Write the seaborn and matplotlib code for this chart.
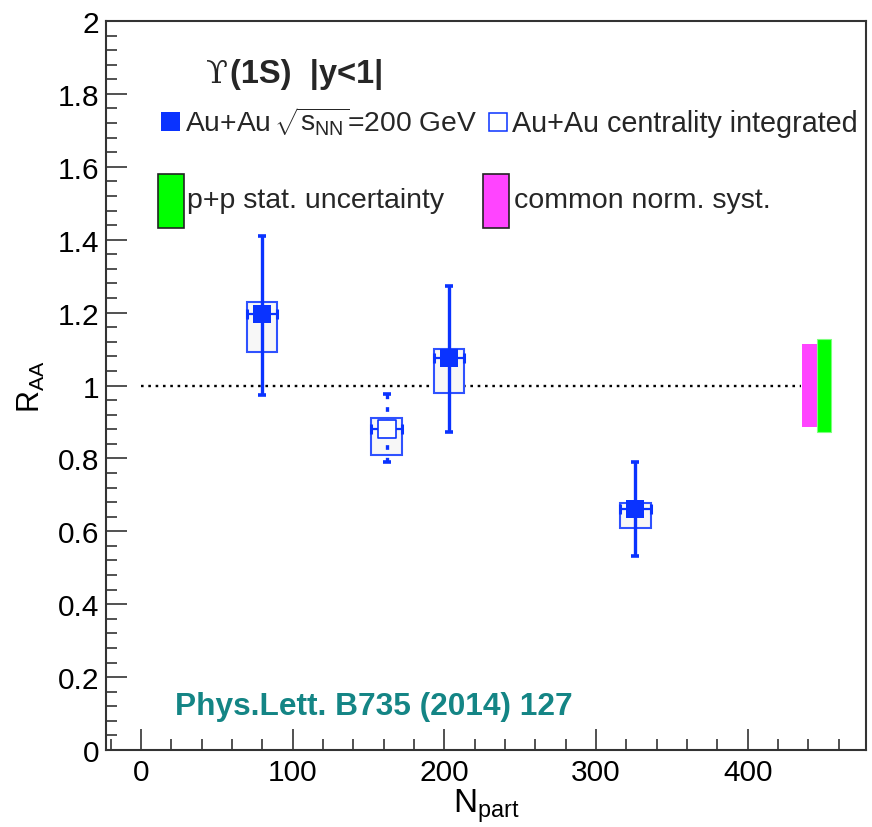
import numpy as np
import pandas as pd
import matplotlib
matplotlib.use("Agg")
import matplotlib.pyplot as plt
from matplotlib.patches import Rectangle
from matplotlib.ticker import AutoMinorLocator, FixedLocator
import seaborn as sns

# ---- data: Upsilon(1S) R_AA vs N_part, Au+Au 200 GeV, |y|<1 ----
npart = [80, 203, 326]
raa = [1.195, 1.075, 0.662]
stat_lo = [0.220, 0.202, 0.131]
stat_hi = [0.215, 0.197, 0.129]
sys_lo = [0.103, 0.096, 0.054]
sys_hi = [0.035, 0.025, 0.017]

# centrality integrated point
npart_int = [162]
raa_int = [0.880]
stat_lo_int = [0.090]
stat_hi_int = [0.097]
sys_lo_int = [0.071]
sys_hi_int = [0.032]

# global uncertainties around unity
pp_stat_unc = 0.128
norm_syst_unc = 0.115

x_tick_values = [0, 100, 200, 300, 400]
x_tick_labels = ["0", "100", "200", "300", "400"]
y_tick_values = [0, 0.2, 0.4, 0.6, 0.8, 1.0, 1.2, 1.4, 1.6, 1.8, 2.0]
y_tick_labels = ["0", "0.2", "0.4", "0.6", "0.8", "1", "1.2", "1.4", "1.6", "1.8", "2"]

# ---- style ----
sns.set_theme(style="white")
plt.rcParams["font.family"] = ["Liberation Sans", "DejaVu Sans"]
plt.rcParams["mathtext.fontset"] = "custom"
plt.rcParams["mathtext.rm"] = "Liberation Sans"
plt.rcParams["mathtext.it"] = "Liberation Sans:italic"
plt.rcParams["mathtext.bf"] = "Liberation Sans:bold"

BLUE = "#0a33ff"
BOX_EDGE = "#2f52ff"
BOX_FILL = "#f7f7f7"
PINK = "#ff44ff"
GREEN = "#00ff00"
TEAL = "#148585"

W, H = 872, 828
fig = plt.figure(figsize=(W / 100, H / 100), dpi=100)
fig.patch.set_facecolor("white")


def fx(px):
    return px / W


def fy(py):
    return 1 - py / H


ax = fig.add_axes([fx(106), fy(751), fx(866) - fx(106), fy(22) - fy(751)])
ax.set_facecolor("white")

half_width = 10  # half width of the systematic boxes in N_part

# systematic boxes
ax.bar(npart, np.add(sys_lo, sys_hi), bottom=np.subtract(raa, sys_lo),
       width=2 * half_width, facecolor=BOX_FILL, edgecolor=BOX_EDGE,
       linewidth=1.5, zorder=2)
ax.bar(npart_int, np.add(sys_lo_int, sys_hi_int),
       bottom=np.subtract(raa_int, sys_lo_int),
       width=2 * half_width, facecolor=BOX_FILL, edgecolor=BOX_EDGE,
       linewidth=1.5, zorder=2)

# reference line at unity
ref_level = 1.0
ref_x_start, ref_x_end = 0, 435
ax.hlines(ref_level, ref_x_start, ref_x_end, colors="black", linewidth=1.7,
          linestyles=(0, (1.1, 2.0)), zorder=1)

# global uncertainty bands at unity
norm_band_left, norm_band_right = 436, 446
pp_band_left, pp_band_right = 446, 455
ax.bar(norm_band_left, 2 * norm_syst_unc, bottom=ref_level - norm_syst_unc,
       width=norm_band_right - norm_band_left, align="edge",
       color=PINK, linewidth=0, zorder=2)
ax.bar(pp_band_left, 2 * pp_stat_unc, bottom=ref_level - pp_stat_unc,
       width=pp_band_right - pp_band_left, align="edge",
       facecolor=GREEN, edgecolor="#7dff7d", linewidth=0.8, zorder=2)

# statistical error bars
ax.errorbar(npart, raa, yerr=[stat_lo, stat_hi], fmt="none", ecolor=BLUE,
            elinewidth=2.4, capsize=2.8, capthick=2.6, zorder=3)
ax.errorbar(npart, raa, xerr=half_width, fmt="none", ecolor=BLUE,
            elinewidth=1.6, capsize=3.5, capthick=2.2, zorder=3)
eb = ax.errorbar(npart_int, raa_int, yerr=[stat_lo_int, stat_hi_int],
                 fmt="none", ecolor=BLUE, elinewidth=2.4, capsize=2.8,
                 capthick=2.6, zorder=3)
eb[2][0].set_linestyle((0, (1.4, 2.4)))
ax.errorbar(npart_int, raa_int, xerr=half_width, fmt="none", ecolor=BLUE,
            elinewidth=1.6, capsize=3.5, capthick=2.2, zorder=3)

# markers
df = pd.DataFrame({"npart": npart, "raa": raa})
df_int = pd.DataFrame({"npart": npart_int, "raa": raa_int})
sns.scatterplot(data=df, x="npart", y="raa", marker="s", s=172, color=BLUE,
                linewidth=0, zorder=4, ax=ax, legend=False)
sns.scatterplot(data=df_int, x="npart", y="raa", marker="s", s=150,
                color="white", edgecolor=BLUE, linewidth=1.2, zorder=4,
                ax=ax, legend=False)

# ---- axes ----
ax.set_xlim(-23, 478)
ax.set_ylim(0, 2)
ax.xaxis.set_major_locator(FixedLocator(x_tick_values))
ax.set_xticklabels(x_tick_labels)
ax.yaxis.set_major_locator(FixedLocator(y_tick_values))
ax.set_yticklabels(y_tick_labels)
ax.xaxis.set_minor_locator(AutoMinorLocator(5))
ax.yaxis.set_minor_locator(AutoMinorLocator(5))
ax.tick_params(which="both", direction="in", top=False, right=False,
               bottom=True, left=True, color="#222222", width=1.1)
ax.tick_params(which="major", length=15, labelsize=21.5, labelcolor="black")
ax.tick_params(which="minor", length=8)
ax.tick_params(axis="x", which="major", pad=6)
ax.tick_params(axis="y", which="major", pad=5)
for sp in ax.spines.values():
    sp.set_visible(True)
    sp.set_color("#333333")
    sp.set_linewidth(1.5)

ax.set_xlabel(r"N$_{\mathrm{part}}$", fontsize=24, color="black")
ax.xaxis.set_label_coords(0.5, -0.050)
ax.set_ylabel(r"R$_{\mathrm{AA}}$", fontsize=22, color="black")
ax.yaxis.set_label_coords(-0.078, 0.5)
ax.grid(False)

# ---- header and legend ----
fig.text(fx(206), fy(83), "\u03d2", fontsize=23, family=["DejaVu Serif"],
         ha="left", va="baseline")
fig.text(fx(230), fy(83), "(1S)  |y<1|", fontsize=23.5, fontweight="bold",
         ha="left", va="baseline")

fig.add_artist(Rectangle((fx(161), fy(132)), fx(19), 19 / H,
                         transform=fig.transFigure, facecolor=BLUE,
                         edgecolor="none"))
fig.text(fx(185), fy(132),
         r"Au+Au$\,\sqrt{\mathrm{s}_{\mathrm{NN}}}$=200 GeV",
         fontsize=20.3, ha="left", va="baseline")
fig.add_artist(Rectangle((fx(488.5), fy(132)), fx(18), 18 / H,
                         transform=fig.transFigure, facecolor="white",
                         edgecolor=BLUE, linewidth=1.1))
fig.text(fx(512), fy(132), "Au+Au centrality integrated",
         fontsize=20.7, ha="left", va="baseline")

fig.add_artist(Rectangle((fx(158), fy(229)), fx(26), 54 / H,
                         transform=fig.transFigure, facecolor=GREEN,
                         edgecolor="#222222", linewidth=1.2))
fig.text(fx(187), fy(208), "p+p stat. uncertainty",
         fontsize=20.5, ha="left", va="baseline")
fig.add_artist(Rectangle((fx(483), fy(229)), fx(26), 54 / H,
                         transform=fig.transFigure, facecolor=PINK,
                         edgecolor="#222222", linewidth=1.2))
fig.text(fx(514), fy(208), "common norm. syst.",
         fontsize=20.5, ha="left", va="baseline")

fig.text(fx(175), fy(715), "Phys.Lett. B735 (2014) 127", fontsize=22.8,
         fontweight="bold", color=TEAL, ha="left", va="baseline")

fig.savefig("out.png", dpi=100, facecolor="white")
